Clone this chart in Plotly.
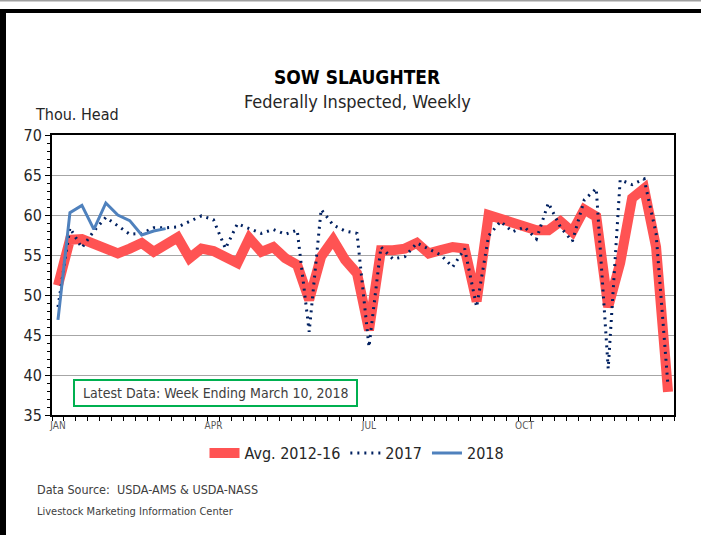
import plotly.graph_objects as go

weeks = list(range(1, 53))
avg_2012_16 = [51.2, 56.9, 57.0, 56.4, 55.8, 55.2, 55.8, 56.5, 55.4, 56.4,
               57.2, 54.6, 55.8, 55.5, 54.9, 54.0, 57.1, 55.4, 56.0, 54.6,
               53.75, 49.4, 54.8, 56.9, 54.4, 52.7, 45.6, 55.6, 55.6, 55.8,
               56.5, 55.2, 55.6, 56.0, 55.8, 49.2, 60.0, 59.6, 59.0, 58.6,
               58.1, 58.1, 59.2, 57.9, 60.7, 59.8, 48.5, 54.0, 62.1, 63.3,
               56.0, 37.9]
y2017 = [48.5, 58.4, 55.9, 58.0, 59.7, 58.7, 57.6, 57.7, 58.4, 58.4,
         58.5, 59.2, 59.9, 59.4, 55.8, 58.9, 58.3, 57.7, 58.2, 57.6,
         58.1, 45.4, 60.7, 58.75, 58.0, 57.7, 43.5, 56.0, 54.5, 54.8,
         56.5, 55.7, 55.0, 53.5, 55.8, 48.5, 57.4, 59.2, 57.9, 58.5,
         57.0, 61.5, 58.5, 56.7, 61.9, 63.3, 40.8, 64.4, 63.8, 64.5,
         57.7, 38.6]
y2018 = [46.9, 60.3, 61.2, 58.2, 61.5, 60.0, 59.3, 57.5, 58.0, 58.3]

month_ticks = [1, 14, 27, 40]
month_labels = ["JAN", "APR", "JUL", "OCT"]

FONT = "Liberation Sans Narrow, DejaVu Sans Condensed, Arial Narrow, sans-serif"

fig = go.Figure()
fig.add_trace(go.Scatter(x=weeks, y=avg_2012_16, mode="lines", name="Avg. 2012-16",
                         line=dict(color="#ff5353", width=10)))
fig.add_trace(go.Scatter(x=weeks, y=y2017, mode="lines", name="2017",
                         line=dict(color="#002060", width=3, dash="2px,5px")))
fig.add_trace(go.Scatter(x=weeks[:len(y2018)], y=y2018, mode="lines", name="2018",
                         line=dict(color="#4f81bd", width=3)))

L, R, T, B = 52, 674, 135, 415
W, H = 701, 535


def px(xp):
    return (xp - L) / (R - L)


def py(yp):
    return (B - yp) / (B - T)


shapes = [
    dict(type="rect", xref="paper", yref="paper", x0=px(0), x1=px(701), y0=py(1.5), y1=py(0),
         fillcolor="#a0a0a0", line=dict(width=0), layer="above"),
    dict(type="rect", xref="paper", yref="paper", x0=px(0), x1=px(6), y0=py(535), y1=py(9),
         fillcolor="black", line=dict(width=0), layer="above"),
    dict(type="rect", xref="paper", yref="paper", x0=px(0), x1=px(701), y0=py(13), y1=py(9),
         fillcolor="black", line=dict(width=0), layer="above"),
    dict(type="rect", xref="paper", yref="paper", x0=px(74), x1=px(357), y0=py(406), y1=py(380),
         fillcolor="white", line=dict(color="#00b050", width=2), layer="above"),
]


def note(text, x, y, size, color="#262626", xanchor="center"):
    return dict(text=text, x=px(x), y=py(y), xref="paper", yref="paper",
                xanchor=xanchor, yanchor="middle", showarrow=False,
                font=dict(family=FONT, size=size, color=color))


annotations = [
    note("<b>SOW SLAUGHTER</b>", 357, 77, 19, "black"),
    note("Federally Inspected, Weekly", 357, 101, 18),
    note("Thou. Head", 33, 114, 16, xanchor="left"),
    note("Latest Data: Week Ending March 10, 2018", 215.5, 393, 14, "#404040"),
    note("Data Source:  USDA-AMS & USDA-NASS", 35, 489, 12.5, "#404040", xanchor="left"),
    note("Livestock Marketing Information Center", 35, 511, 11, "#404040", xanchor="left"),
]

fig.update_layout(
    width=W, height=H,
    margin=dict(l=L, r=W - R, t=T, b=H - B),
    paper_bgcolor="white", plot_bgcolor="white",
    font=dict(family=FONT, color="#262626"),
    showlegend=True,
    legend=dict(orientation="h", x=px(357), y=py(453), xanchor="center", yanchor="middle",
                font=dict(family=FONT, size=16, color="#262626"), tracegroupgap=0,
                itemwidth=30, bgcolor="rgba(0,0,0,0)"),
    shapes=shapes,
    annotations=annotations,
    xaxis=dict(range=[0.5, 52.5], tickmode="array", tickvals=month_ticks, ticktext=month_labels,
               ticks="", showgrid=False, zeroline=False,
               showline=True, linecolor="black", linewidth=2, mirror=True,
               tickfont=dict(family=FONT, size=10, color="#595959"),
               minor=dict(tickmode="linear", tick0=0.5, dtick=1, ticks="outside", ticklen=4,
                          tickcolor="black", tickwidth=1, showgrid=False)),
    yaxis=dict(range=[35, 70], dtick=5, tick0=35, ticks="outside", ticklen=5, tickcolor="black",
               showgrid=True, gridcolor="#a6a6a6", gridwidth=1, zeroline=False,
               showline=True, linecolor="black", linewidth=2, mirror=True,
               tickfont=dict(family=FONT, size=16, color="#262626"),
               minor=dict(dtick=1, ticks="outside", ticklen=3, tickcolor="black", showgrid=False)),
)

fig.write_html("out.html", config={"displayModeBar": False},
               post_script="document.body.style.margin='0';")
